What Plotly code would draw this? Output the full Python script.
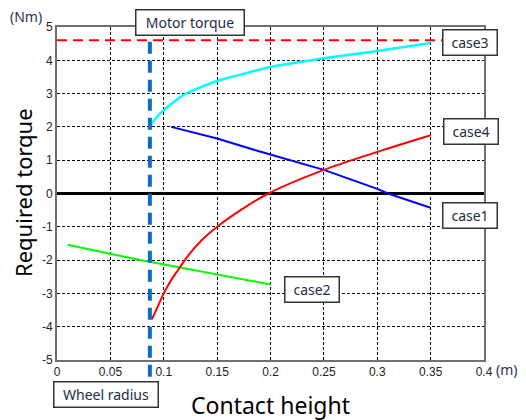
import plotly.graph_objects as go

# ---- data ----
case1_x = [0.107, 0.15, 0.19, 0.25, 0.30, 0.31, 0.35]
case1_y = [2.0, 1.65, 1.26, 0.71, 0.14, 0.0, -0.43]

case2_x = [0.01, 0.078, 0.2]
case2_y = [-1.54, -2.0, -2.73]

case3_x = [0.0872, 0.09, 0.095, 0.10, 0.109, 0.118, 0.13, 0.15, 0.172, 0.20, 0.25, 0.30, 0.35]
case3_y = [2.0, 2.15, 2.35, 2.5, 2.74, 2.95, 3.13, 3.38, 3.57, 3.8, 4.06, 4.28, 4.52]

case4_x = [0.0888, 0.095, 0.10, 0.107, 0.114, 0.122, 0.135, 0.15, 0.172, 0.198, 0.25, 0.30, 0.35]
case4_y = [-3.78, -3.35, -3.0, -2.6, -2.27, -1.9, -1.42, -1.0, -0.5, 0.0, 0.71, 1.25, 1.75]

motor_torque = 4.6
wheel_radius = 0.087
x_range = [0, 0.4]
y_range = [-5, 5]
x_ticks = [0, 0.05, 0.1, 0.15, 0.2, 0.25, 0.3, 0.35, 0.4]
x_tick_text = ["0", "0.05", "0.1", "0.15", "0.2", "0.25", "0.3", "0.35", "0.4"]
y_ticks = [-5, -4, -3, -2, -1, 0, 1, 2, 3, 4, 5]
y_tick_text = ["-5", "-4", "-3", "-2", "-1", "0", "1", "2", "3", "4", "5"]

fig = go.Figure()

# zero line
fig.add_trace(go.Scatter(x=x_range, y=[0, 0], mode="lines",
                         line=dict(color="black", width=3), hoverinfo="skip"))
# motor torque
fig.add_trace(go.Scatter(x=x_range, y=[motor_torque, motor_torque], mode="lines",
                         line=dict(color="#ff0000", width=2, dash="10px,6px")))

fig.add_trace(go.Scatter(x=case2_x, y=case2_y, mode="lines",
                         line=dict(color="#00ff00", width=2)))
fig.add_trace(go.Scatter(x=case1_x, y=case1_y, mode="lines",
                         line=dict(color="#0000ff", width=2)))
fig.add_trace(go.Scatter(x=case4_x, y=case4_y, mode="lines", line_shape="spline",
                         line=dict(color="#ff0000", width=2)))
fig.add_trace(go.Scatter(x=case3_x, y=case3_y, mode="lines", line_shape="spline",
                         line=dict(color="#00ffff", width=2.5)))

# wheel radius vertical dashed line (extends beyond plot)
fig.add_shape(type="line", xref="x", yref="paper",
              x0=wheel_radius, x1=wheel_radius, y0=-0.05, y1=0.97,
              line=dict(color="#0a6cc4", width=4, dash="12px,7px"), layer="above")

box_font = dict(family="Noto Sans, Open Sans, sans-serif", size=14, color="#1e2c44")

def box(text, x, y, w, h):
    fig.add_annotation(text=text, xref="paper", yref="paper", x=x, y=y,
                       xanchor="center", yanchor="middle", showarrow=False,
                       width=w, height=h, bgcolor="white", bordercolor="#333333",
                       borderwidth=1.5, borderpad=0, font=box_font)

box("Motor torque", 0.312, 1.013, 107, 24)
box("case3", 0.968, 0.954, 53, 24)
box("case4", 0.970, 0.687, 53, 24)
box("case1", 0.968, 0.435, 53, 24)
box("case2", 0.598, 0.211, 53, 24)
box("Wheel radius", 0.115, -0.105, 103, 24)

unit_font = dict(family="Noto Sans, Open Sans, sans-serif", size=14, color="#2a3550")
fig.add_annotation(text="(Nm)", xref="paper", yref="paper", x=-0.072, y=1.031,
                   xanchor="center", yanchor="middle", showarrow=False, font=unit_font)
fig.add_annotation(text="(m)", xref="paper", yref="paper", x=1.053, y=-0.03,
                   xanchor="center", yanchor="middle", showarrow=False, font=unit_font)

title_font = dict(family="Noto Sans, Open Sans, sans-serif", size=22, color="black")
fig.add_annotation(text="Required torque", xref="paper", yref="paper", x=-0.08, y=0.504,
                   xanchor="center", yanchor="middle",
                   textangle=-90, showarrow=False, font=title_font)
fig.add_annotation(text="Contact height", xref="paper", yref="paper", x=0.499, y=-0.134,
                   xanchor="center", yanchor="middle", showarrow=False,
                   font=dict(family="Noto Sans, Open Sans, sans-serif", size=23, color="black"))

axis_common = dict(showgrid=True, gridcolor="#000000", gridwidth=1, griddash="3px,2px",
                   zeroline=False, showline=True, linecolor="#707070", linewidth=2,
                   mirror=True, ticks="", tickfont=dict(family="Liberation Sans, Arial", size=12, color="#222"))

fig.update_xaxes(range=x_range, tickvals=x_ticks, ticktext=x_tick_text, **axis_common)
fig.update_yaxes(range=y_range, tickvals=y_ticks, ticktext=y_tick_text, **axis_common)

fig.update_layout(width=518, height=412, showlegend=False,
                  plot_bgcolor="white", paper_bgcolor="white",
                  margin=dict(l=49, r=42, t=15, b=60))

fig.write_html("out.html")
